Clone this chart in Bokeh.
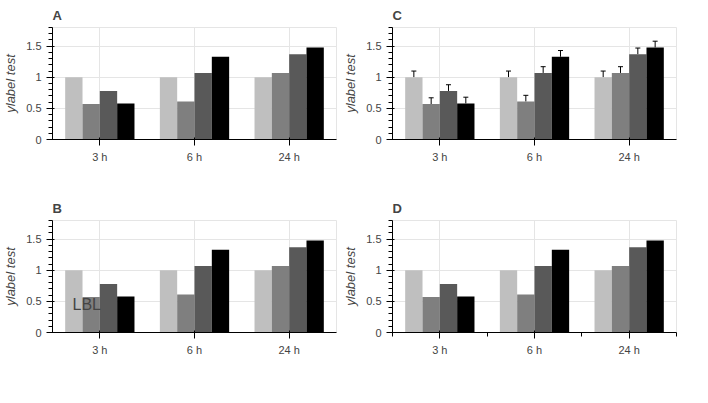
from bokeh.plotting import figure
from bokeh.models import (ColumnDataSource, FactorRange, Range1d, LinearAxis, FixedTicker,
                          Whisker, TeeHead, Label)
from bokeh.transform import dodge
from bokeh.layouts import column, row
from bokeh.embed import file_html
from bokeh.resources import INLINE

categories = ["3 h", "6 h", "24 h"]
series_colors = ["#bfbfbf", "#7f7f7f", "#595959", "#000000"]
a_untreated = [1.00, 1.00, 1.00]
a_atp = [0.57, 0.61, 1.07]
a_atp_pg = [0.78, 1.07, 1.37]
a_pg = [0.58, 1.33, 1.48]
BAR_W = 0.183


def make_panel(letter, whisk, lab, lin):
    p = figure(x_range=FactorRange(*categories, range_padding=0), y_range=Range1d(0, 1.8),
               width=340, height=193, output_backend="svg", toolbar_location=None,
               x_axis_location=None if lin else "below",
               min_border_left=39, min_border_right=4, min_border_top=5, min_border_bottom=54,
               title=letter)
    vals = [a_untreated, a_atp, a_atp_pg, a_pg]
    data = {"cat": categories}
    for i in range(4):
        data[f"v{i}"] = vals[i]
        data[f"u{i}"] = [v + 0.1 for v in vals[i]]
    src = ColumnDataSource(data)
    for i in range(4):
        p.vbar(x=dodge("cat", (i - 1.5) * BAR_W, range=p.x_range), top=f"v{i}", width=BAR_W,
               source=src, fill_color=series_colors[i], line_color=None)
        if whisk:
            p.add_layout(Whisker(base=dodge("cat", (i - 1.5) * BAR_W, range=p.x_range), lower=f"v{i}",
                                 upper=f"u{i}", source=src, lower_head=None,
                                 upper_head=TeeHead(size=5)))
    if lab:
        p.add_layout(Label(x=20, y=20, x_units="screen", y_units="screen", text="LBL"))
    if lin:
        xa = LinearAxis(ticker=FixedTicker(ticks=[0.5, 1.5, 2.5], minor_ticks=[0, 1, 2, 3]),
                        major_label_overrides={0.5: "3 h", 1.5: "6 h", 2.5: "24 h"})
        p.add_layout(xa, "below")
    p.yaxis.axis_label = "ylabel test"
    return p


fA = make_panel("A", False, False, False)
fC = make_panel("C", True, False, False)
fB = make_panel("B", False, True, False)
fD = make_panel("D", False, False, True)
layout = column(row(fA, fC), row(fB, fD))
open("out.html", "w").write(file_html(layout, INLINE))
